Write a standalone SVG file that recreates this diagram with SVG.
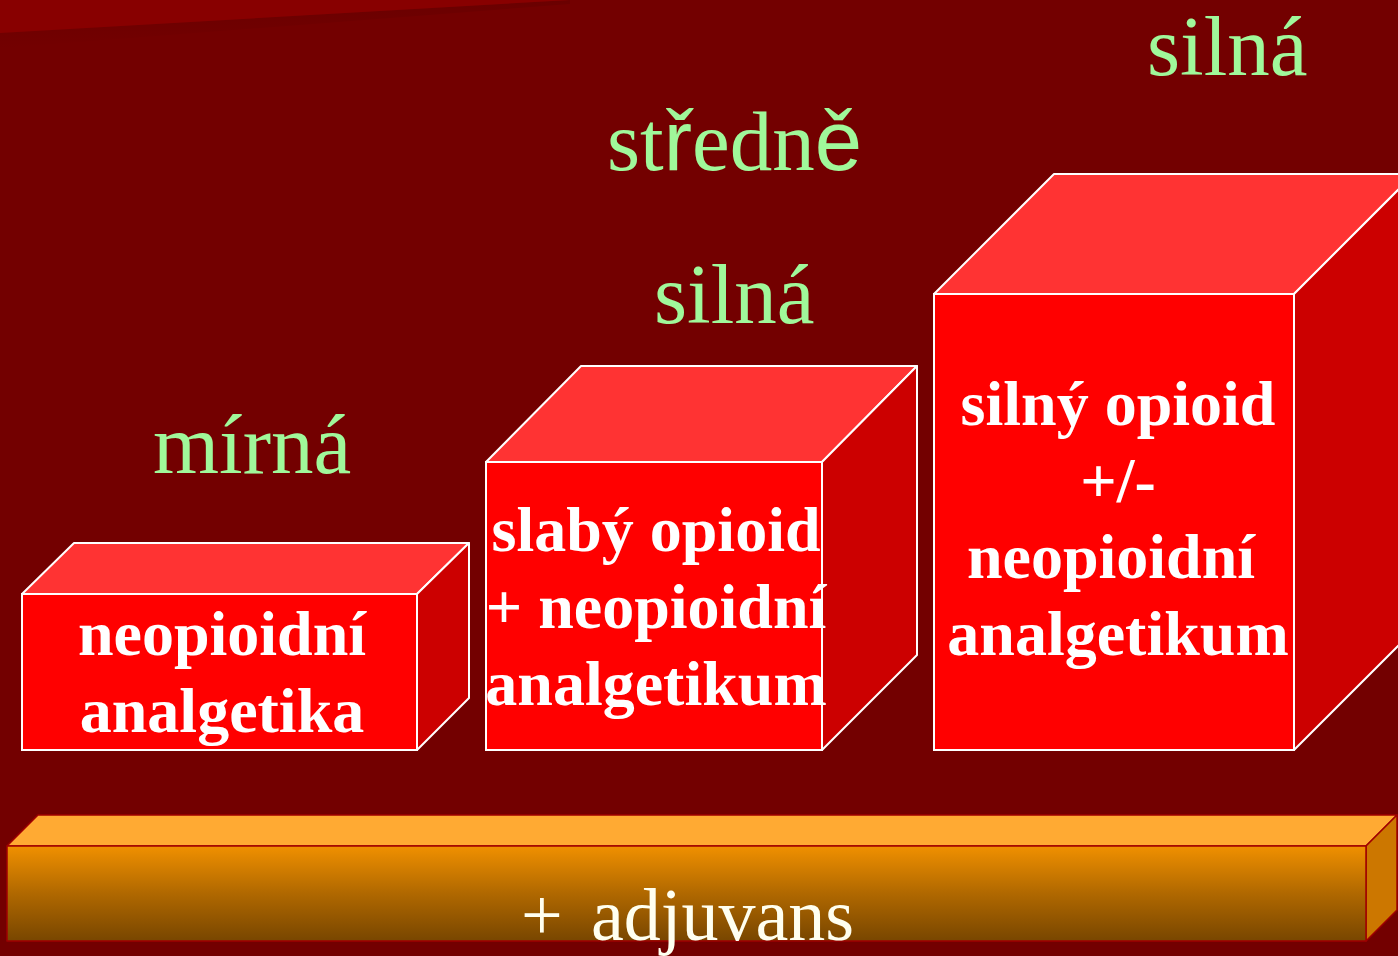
<svg xmlns="http://www.w3.org/2000/svg" width="1398" height="956" viewBox="0 0 1398 956">
<defs>
<linearGradient id="barFront" x1="0" y1="0" x2="0" y2="1">
<stop offset="0" stop-color="#f09000"/>
<stop offset="0.5" stop-color="#b06800"/>
<stop offset="1" stop-color="#784600"/>
</linearGradient>
<linearGradient id="band" x1="0" y1="0" x2="0" y2="1">
<stop offset="0" stop-color="#6a0000"/>
<stop offset="1" stop-color="#730000"/>
</linearGradient>
<style>
.front{fill:#ff0000;stroke:#ffffff;stroke-width:2}
.top{fill:#ff3333;stroke:#ffffff;stroke-width:2;stroke-linejoin:round}
.side{fill:#cc0000;stroke:#ffffff;stroke-width:2;stroke-linejoin:round}
.lbl{font-family:"Liberation Serif","Times New Roman",serif;font-size:85px;fill:#a0f89a}
.box{font-family:"Liberation Serif","Times New Roman",serif;font-weight:bold;font-size:64px;fill:#ffffff;text-anchor:middle}
.bar{stroke:#a00000;stroke-width:1.5;stroke-linejoin:round}
.adj{font-family:"Liberation Serif","Times New Roman",serif;font-size:74px;fill:#fffff0}
</style>
</defs>
<rect x="0" y="0" width="1398" height="956" fill="#730000"/>
<polygon points="0,33 570,0 570,4 0,48" fill="url(#band)"/>
<polygon points="0,0 570,0 0,33" fill="#880000"/>

<g id="labels">
<text class="lbl" x="1147" y="75">silná</text>
<text class="lbl" x="607" y="170">st<tspan font-family="Liberation Sans, sans-serif">ř</tspan>edn<tspan font-family="Liberation Sans, sans-serif">ě</tspan></text>
<text class="lbl" x="654" y="323">silná</text>
<text class="lbl" x="153" y="473" font-size="86">mírná</text>
</g>

<g id="step1">
<polygon class="top" points="22,594 74,543 469,543 417,594"/>
<polygon class="side" points="417,594 469,543 469,698 417,750"/>
<rect class="front" x="22" y="594" width="395" height="156"/>
<text class="box" x="222" y="655">neopioidní</text>
<text class="box" x="222" y="732">analgetika</text>
</g>

<g id="step2">
<polygon class="top" points="486,462 581,366 917,366 822,462"/>
<polygon class="side" points="822,462 917,366 917,655 822,750"/>
<rect class="front" x="486" y="462" width="336" height="288"/>
<text class="box" x="656" y="551">slabý opioid</text>
<text class="box" x="656" y="628">+ neopioidní</text>
<text class="box" x="656" y="705">analgetikum</text>
</g>

<g id="step3">
<polygon class="top" points="934,294 1054,174 1414,174 1294,294"/>
<polygon class="side" points="1294,294 1414,174 1414,630 1294,750"/>
<rect class="front" x="934" y="294" width="360" height="456"/>
<text class="box" x="1118" y="425">silný opioid</text>
<text class="box" x="1118" y="502">+/-</text>
<text class="box" x="1111" y="578">neopioidní</text>
<text class="box" x="1118" y="655">analgetikum</text>
</g>

<g id="adjuvans">
<polygon class="bar" points="7,846 38,815 1397,815 1366,846" fill="#ffaa33"/>
<polygon class="bar" points="1366,846 1397,815 1397,910 1366,941" fill="#cc7700"/>
<rect class="bar" x="7" y="846" width="1359" height="95" fill="url(#barFront)"/>
<text class="adj" x="521" y="940">+ <tspan x="591">adjuvans</tspan></text>
</g>

<g id="connectors"/>
</svg>
